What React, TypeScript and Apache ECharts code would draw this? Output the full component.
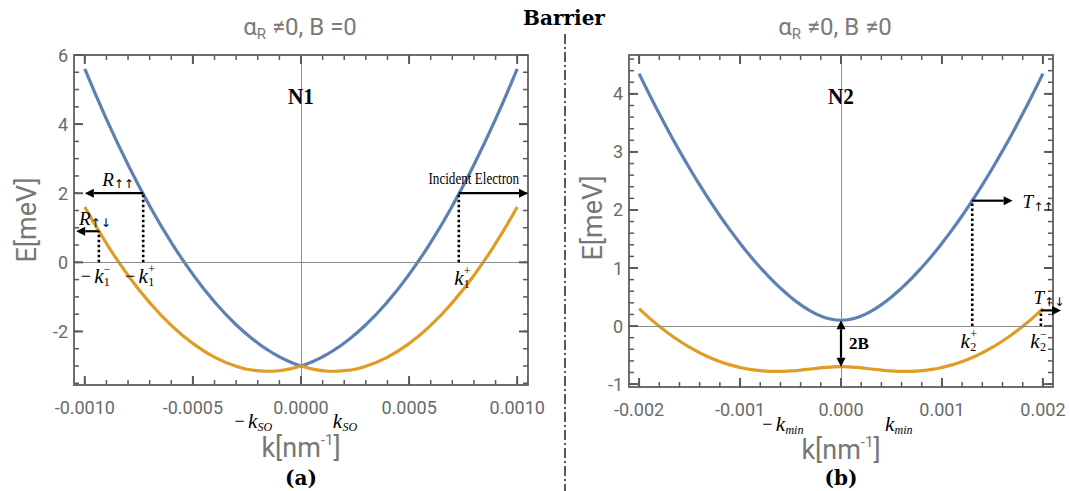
import React, { useEffect, useRef } from 'react';
import * as echarts from 'echarts';

// ---------- Panel (a): alpha_R != 0, B = 0 ----------
const kA = [-0.001, -0.0009, -0.0008, -0.0007, -0.0006, -0.0005, -0.0004, -0.0003, -0.0002, -0.00015, -0.0001, -0.00005, 0,
  0.00005, 0.0001, 0.00015, 0.0002, 0.0003, 0.0004, 0.0005, 0.0006, 0.0007, 0.0008, 0.0009, 0.001];
const blueA = [5.6, 4.146, 2.824, 1.634, 0.576, -0.35, -1.144, -1.806, -2.336, -2.552, -2.734, -2.884, -3,
  -2.884, -2.734, -2.552, -2.336, -1.806, -1.144, -0.35, 0.576, 1.634, 2.824, 4.146, 5.6];
const orangeA = [1.6, 0.546, -0.376, -1.166, -1.824, -2.35, -2.744, -3.006, -3.136, -3.152, -3.134, -3.084, -3,
  -3.084, -3.134, -3.152, -3.136, -3.006, -2.744, -2.35, -1.824, -1.166, -0.376, 0.546, 1.6];
const xTicksA = [-0.001, -0.0005, 0, 0.0005, 0.001];
const yTicksA = [-2, 0, 2, 4, 6];

// ---------- Panel (b): alpha_R != 0, B != 0 ----------
const kB = [-0.002, -0.0019, -0.0018, -0.0017, -0.0016, -0.0015, -0.0014, -0.0013, -0.0012, -0.0011, -0.001,
  -0.0009, -0.0008, -0.0007, -0.0006, -0.0005, -0.0004, -0.0003, -0.0002, -0.0001, 0,
  0.0001, 0.0002, 0.0003, 0.0004, 0.0005, 0.0006, 0.0007, 0.0008, 0.0009, 0.001,
  0.0011, 0.0012, 0.0013, 0.0014, 0.0015, 0.0016, 0.0017, 0.0018, 0.0019, 0.002];
const blueB = [4.35, 3.997, 3.657, 3.331, 3.018, 2.718, 2.432, 2.16, 1.901, 1.657, 1.426,
  1.21, 1.009, 0.823, 0.654, 0.502, 0.369, 0.258, 0.173, 0.119, 0.1,
  0.119, 0.173, 0.258, 0.369, 0.502, 0.654, 0.823, 1.009, 1.21, 1.426,
  1.657, 1.901, 2.16, 2.432, 2.718, 3.018, 3.331, 3.657, 3.997, 4.35];
const orangeB = [0.3, 0.141, -0.005, -0.138, -0.258, -0.365, -0.46, -0.542, -0.611, -0.669, -0.714,
  -0.747, -0.769, -0.78, -0.781, -0.773, -0.759, -0.74, -0.72, -0.706, -0.7,
  -0.706, -0.72, -0.74, -0.759, -0.773, -0.781, -0.78, -0.769, -0.747, -0.714,
  -0.669, -0.611, -0.542, -0.46, -0.365, -0.258, -0.138, -0.005, 0.141, 0.3];
const xTicksB = [-0.002, -0.001, 0, 0.001, 0.002];
const yTicksB = [-1, 0, 1, 2, 3, 4];

// ---------- Axis extents ----------
const xRangeA = [-0.00105, 0.00105];
const yRangeA = [-3.55, 6];
const xRangeB = [-0.0021, 0.0021];
const yRangeB = [-1.05, 4.67];

// ---------- Annotation anchors (data units) ----------
const kOnePlus = 0.00073;
const eIncident = 2.0;
const kOneMinus = 0.000935;
const eFlipA = 0.9;
const kReflectEnd = -0.001;
const kReflectFlipEnd = -0.00104;
const kIncidentEnd = 0.00105;
const kSO = 0.00015;
const kTwoPlus = 0.0013;
const eTransmit = 2.16;
const kTransmitEnd = 0.0017;
const kTwoMinus = 0.00198;
const eFlipB = 0.27;
const kTransmitFlipEnd = 0.00218;
const kMin = 0.00064;
const eBlueMinB = 0.1;
const eOrangeMaxB = -0.7;

const BLUE = '#5e81b5';
const ORANGE = '#e19c24';
const FRAME = '#6e6e6e';
const TICK = '#5a5a5a';
const LBL = '#6a6a6a';
const SANS = 'Roboto';
const SERIF = 'Liberation Serif';

function range(a: number, b: number, s: number) {
  const out: number[] = [];
  const n = Math.round((b - a) / s);
  for (let i = 0; i <= n; i++) out.push(+(a + i * s).toFixed(6));
  return out;
}

function frameAxes(kind: 'x' | 'y', gridIndex: number, ext: number[], majors: number[], fmt: (v: number) => string) {
  const sides = kind === 'x' ? ['bottom', 'top'] : ['left', 'right'];
  return sides.map((pos, si) => ({
    type: 'value', gridIndex, min: ext[0], max: ext[1], position: pos,
    splitLine: { show: false },
    axisLine: { show: true, onZero: false, lineStyle: { color: FRAME, width: 2 } },
    axisTick: { show: false },
    axisLabel: si === 0
      ? { show: true, customValues: majors, formatter: fmt, color: LBL, fontSize: 18, fontFamily: SANS, margin: kind === 'x' ? 13 : 6 }
      : { show: false },
  }));
}

const zip = (k: number[], v: number[]) => k.map((x, i) => [x, v[i]]);
const fmtSigned = (d: number) => (v: number) => (v < 0 ? '-' : '') + Math.abs(v).toFixed(d);

function buildOption(): any {
  const zeroLines = {
    silent: true, symbol: ['none', 'none'], label: { show: false },
    lineStyle: { color: '#8c8c8c', width: 1, type: 'solid' },
    data: [{ yAxis: 0 }, { xAxis: 0 }],
  };
  const line = (name: string, data: any[], color: string, xi: number) => ({
    type: 'line', name, data, xAxisIndex: xi, yAxisIndex: xi, showSymbol: false, smooth: true,
    lineStyle: { color, width: 3.2 }, itemStyle: { color }, z: 3,
  });
  const iz = kA.indexOf(0);
  return {
    animation: false,
    backgroundColor: '#ffffff',
    grid: [
      { left: 74, top: 55, width: 454, height: 330 },
      { left: 629, top: 55, width: 424, height: 332 },
    ],
    xAxis: [
      ...frameAxes('x', 0, xRangeA, xTicksA, fmtSigned(4)),
      ...frameAxes('x', 1, xRangeB, xTicksB, fmtSigned(3)),
    ],
    yAxis: [
      ...frameAxes('y', 0, yRangeA, yTicksA, fmtSigned(0)),
      ...frameAxes('y', 1, yRangeB, yTicksB, fmtSigned(0)),
    ],
    series: [
      { type: 'line', data: [], xAxisIndex: 0, yAxisIndex: 0, markLine: zeroLines, z: 1 },
      { type: 'line', data: [], xAxisIndex: 2, yAxisIndex: 2, markLine: zeroLines, z: 1 },
      line('blueA-left', zip(kA.slice(0, iz + 1), blueA.slice(0, iz + 1)), BLUE, 0),
      line('blueA-right', zip(kA.slice(iz), blueA.slice(iz)), BLUE, 0),
      line('orangeA-left', zip(kA.slice(0, iz + 1), orangeA.slice(0, iz + 1)), ORANGE, 0),
      line('orangeA-right', zip(kA.slice(iz), orangeA.slice(iz)), ORANGE, 0),
      line('blueB', zip(kB, blueB), BLUE, 2),
      line('orangeB', zip(kB, orangeB), ORANGE, 2),
    ],
  };
}

function buildGraphic(chart: any) {
  const pa = (x: number, y: number) => chart.convertToPixel({ xAxisIndex: 0, yAxisIndex: 0 }, [x, y]) as number[];
  const pb = (x: number, y: number) => chart.convertToPixel({ xAxisIndex: 2, yAxisIndex: 2 }, [x, y]) as number[];
  const els: any[] = [];

  // Mathematica-style frame ticks on all four sides (inward), one polyline-free set of segments
  const frameTicks = (p: (x: number, y: number) => number[], xr: number[], yr: number[], xMaj: number[], xMin: number[], yMaj: number[], yMin: number[]) => {
    const groups: [number[], number, number, boolean][] = [
      [xMaj, 9, 2, true], [xMin, 5, 1.5, true], [yMaj, 9, 2, false], [yMin, 5, 1.5, false],
    ];
    groups.forEach(([vals, len, w, isX]) => {
      vals.forEach((v) => {
        const segs = isX
          ? [[p(v, yr[0]), 0, -len], [p(v, yr[1]), 0, len]]
          : [[p(xr[0], v), len, 0], [p(xr[1], v), -len, 0]];
        segs.forEach(([pt, dx, dy]: any) => {
          els.push({
            type: 'rect', silent: true, z: 8,
            shape: isX
              ? { x: pt[0] - w / 2, y: Math.min(pt[1], pt[1] + dy), width: w, height: Math.abs(dy) }
              : { x: Math.min(pt[0], pt[0] + dx), y: pt[1] - w / 2, width: Math.abs(dx), height: w },
            style: { fill: TICK },
          });
        });
      });
    });
  };
  frameTicks(pa, xRangeA, yRangeA, xTicksA, range(-0.001, 0.001, 0.0001), yTicksA, range(-3.5, 6, 0.5));
  frameTicks(pb, xRangeB, yRangeB, xTicksB, range(-0.002, 0.002, 0.0002), yTicksB, range(-1, 4.6, 0.2));

  const txt = (x: number, y: number, text: string, style: any = {}, extra: any = {}) =>
    els.push({ type: 'text', x, y, silent: true, z: 10, style: { text, fill: '#000', align: 'center', verticalAlign: 'middle', ...style }, ...extra });
  const dotted = (p1: number[], p2: number[]) =>
    els.push({ type: 'line', silent: true, z: 9, shape: { x1: p1[0], y1: p1[1], x2: p2[0], y2: p2[1] }, style: { stroke: '#000', lineWidth: 2.6, lineDash: [2.5, 2.5] } });
  const head = (tip: number[], from: number[]) => {
    const dx = tip[0] - from[0], dy = tip[1] - from[1];
    const L = Math.hypot(dx, dy) || 1;
    const ux = dx / L, uy = dy / L, hl = 9, hw = 4.5;
    const bx = tip[0] - ux * hl, by = tip[1] - uy * hl;
    els.push({ type: 'polygon', silent: true, z: 10, shape: { points: [tip, [bx - uy * hw, by + ux * hw], [bx + uy * hw, by - ux * hw]] }, style: { fill: '#000' } });
    return [bx, by];
  };
  const arrow = (p1: number[], p2: number[], both = false) => {
    const e = head(p2, p1);
    const s = both ? head(p1, p2) : p1;
    els.push({ type: 'line', silent: true, z: 10, shape: { x1: s[0], y1: s[1], x2: e[0], y2: e[1] }, style: { stroke: '#000', lineWidth: 2.2 } });
  };
  const kLabel = (cx: number, cy: number, minus: boolean, sub: string, sup: string, subItalic = false) => {
    if (minus) txt(cx - 13, cy, '\u2212', { fontFamily: SERIF, fontSize: 18 });
    txt(cx, cy, 'k', { fontFamily: SERIF, fontSize: 21, fontStyle: 'italic' });
    if (sup) txt(cx + 5, cy - 7, sup, { fontFamily: SERIF, fontSize: 12, align: 'left' });
    if (sub) txt(cx + 5, cy + 6, sub, { fontFamily: SERIF, fontSize: 12, align: 'left', fontStyle: subItalic ? 'italic' : 'normal' });
  };
  const subLabel = (x: number, y: number, main: string, sub: string, align = 'center') =>
    txt(x, y, `{m|${main}}{s|${sub}}`, {
      align,
      rich: {
        m: { fontFamily: SERIF, fontSize: 19, fontStyle: 'italic', lineHeight: 22, verticalAlign: 'middle', fill: '#000' },
        s: { fontFamily: 'DejaVu Sans', fontSize: 12, lineHeight: 13, verticalAlign: 'bottom', fill: '#000' },
      },
    });

  // ---- Global texts ----
  const titleRich = {
    a: { fontFamily: SANS, fontSize: 24, lineHeight: 28, fill: '#7a7a7a', verticalAlign: 'middle' },
    s: { fontFamily: SANS, fontSize: 15, lineHeight: 16, fill: '#7a7a7a', verticalAlign: 'bottom' },
  };
  txt(300, 27, '{a|\u03b1}{s|R}{a| \u22600, B =0}', { rich: titleRich });
  txt(835, 27, '{a|\u03b1}{s|R}{a| \u22600, B \u22600}', { rich: titleRich });
  txt(564, 18, 'Barrier', { fontFamily: 'DejaVu Serif', fontSize: 20, fontWeight: 'bold' });
  els.push({ type: 'line', silent: true, z: 5, shape: { x1: 565, y1: 34, x2: 565, y2: 491 }, style: { stroke: '#222', lineWidth: 1.5, lineDash: [10, 3, 2, 3] } });

  const p0a = pa(0, 6), p0b = pb(0, 4.67);
  txt(p0a[0], 96, 'N1', { fontFamily: SERIF, fontSize: 24, fontWeight: 'bold' }, { scaleX: 0.88 });
  txt(p0b[0], 96, 'N2', { fontFamily: SERIF, fontSize: 24, fontWeight: 'bold' }, { scaleX: 0.88 });

  txt(27, 220, 'E[meV]', { fontFamily: SANS, fontSize: 27, fill: '#777' }, { rotation: Math.PI / 2 });
  txt(593, 218, 'E[meV]', { fontFamily: SANS, fontSize: 27, fill: '#777' }, { rotation: Math.PI / 2 });
  const xTitleRich = {
    a: { fontFamily: SANS, fontSize: 27, lineHeight: 32, fill: '#777', verticalAlign: 'middle' },
    s: { fontFamily: SANS, fontSize: 15, lineHeight: 16, fill: '#777', verticalAlign: 'top' },
  };
  txt(p0a[0], 448, '{a|k[nm}{s|-1}{a|]}', { rich: xTitleRich });
  txt(p0b[0], 450, '{a|k[nm}{s|-1}{a|]}', { rich: xTitleRich });
  txt(p0a[0], 478, '(a)', { fontFamily: 'DejaVu Serif', fontSize: 20, fontWeight: 'bold' });
  txt(p0b[0], 478, '(b)', { fontFamily: 'DejaVu Serif', fontSize: 20, fontWeight: 'bold' });

  // ---- Panel (a) annotations ----
  const aL1 = pa(-kOnePlus, eIncident), aL0 = pa(-kOnePlus, 0);
  const aM1 = pa(-kOneMinus, eFlipA), aM0 = pa(-kOneMinus, 0);
  const aR1 = pa(kOnePlus, eIncident), aR0 = pa(kOnePlus, 0);
  dotted(aL0, aL1);
  dotted(aM0, aM1);
  dotted(aR0, aR1);
  const aLe = pa(kReflectEnd, eIncident);
  arrow(aL1, aLe);
  arrow(aM1, pa(kReflectFlipEnd, eFlipA));
  arrow(aR1, pa(kIncidentEnd, eIncident));
  subLabel((aL1[0] + aLe[0]) / 2 + 4, aL1[1] - 14, 'R', '\u2191\u2191');
  subLabel(aM1[0] - 4, aM1[1] - 13, 'R', '\u2191\u2193');
  txt(aR1[0] + 15, aR1[1] - 15, 'Incident Electron', { fontFamily: SERIF, fontSize: 16 }, { scaleX: 0.82 });
  kLabel(aM0[0], aM0[1] + 14, true, '1', '\u2212');
  kLabel(aL0[0], aL0[1] + 14, true, '1', '+');
  kLabel(aR0[0], aR0[1] + 16, false, '1', '+');
  const so1 = pa(-kSO, yRangeA[0]), so2 = pa(kSO, yRangeA[0]);
  kLabel(so1[0] - 16, so1[1] + 36, true, 'SO', '', true);
  kLabel(so2[0] + 4, so2[1] + 36, false, 'SO', '', true);

  // ---- Panel (b) annotations ----
  const b2top = pb(0, eBlueMinB), b2bot = pb(0, eOrangeMaxB);
  arrow(b2top, b2bot, true);
  txt(b2top[0] + 18, (b2top[1] + b2bot[1]) / 2, '2B', { fontFamily: SERIF, fontSize: 17, fontWeight: 'bold' });
  const bP1 = pb(kTwoPlus, eTransmit), bP0 = pb(kTwoPlus, 0);
  dotted(bP0, bP1);
  const bPe = pb(kTransmitEnd, eTransmit);
  arrow(bP1, bPe);
  subLabel(bPe[0] + 10, bPe[1] + 1, 'T', '\u2191\u2191', 'left');
  const bM1 = pb(kTwoMinus, eFlipB), bM0 = pb(kTwoMinus, 0);
  dotted(bM0, bM1);
  arrow(bM1, pb(kTransmitFlipEnd, eFlipB));
  subLabel(bM1[0] + 8, bM1[1] - 13, 'T', '\u2191\u2193');
  kLabel(bP0[0] - 7, bP0[1] + 15, false, '2', '+');
  kLabel(bM0[0] - 6, bM0[1] + 15, false, '2', '\u2212');
  const m1 = pb(-kMin, yRangeB[0]), m2 = pb(kMin, yRangeB[0]);
  kLabel(m1[0] + 4, m1[1] + 37, true, 'min', '', true);
  kLabel(m2[0] - 16, m2[1] + 37, false, 'min', '', true);

  return els;
}

export default function App() {
  const ref = useRef<HTMLDivElement>(null);
  useEffect(() => {
    const chart = echarts.init(ref.current!, null, { renderer: 'svg' });
    chart.setOption(buildOption());
    chart.setOption({ graphic: buildGraphic(chart) });
    return () => chart.dispose();
  }, []);
  return <div ref={ref} style={{ position: 'fixed', left: 0, top: 0, width: 1070, height: 491, background: '#fff' }} />;
}
